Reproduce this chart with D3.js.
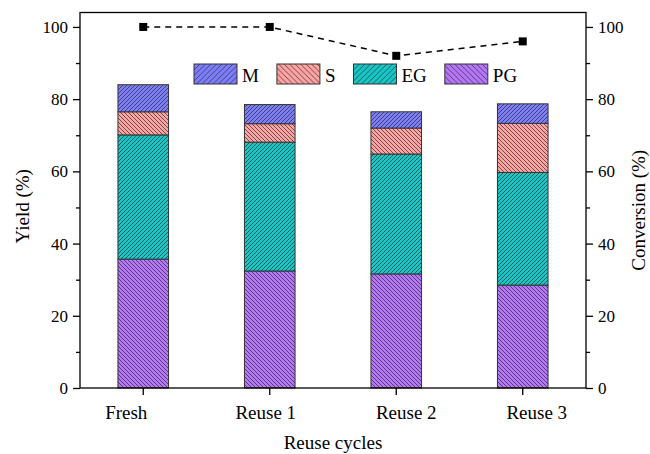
<!DOCTYPE html>
<html>
<head>
<meta charset="utf-8">
<script src="https://cdn.jsdelivr.net/npm/d3@7"></script>
<style>
  html, body { margin: 0; padding: 0; background: #fff; }
  svg { display: block; font-family: "Liberation Serif", "Times New Roman", serif; }
</style>
</head>
<body>
<svg id="chart" width="650" height="454"></svg>
<script>
// Catalyst reuse: product yields (stacked) and conversion per cycle
const categories = ["Fresh", "Reuse 1", "Reuse 2", "Reuse 3"];
const seriesNames = ["PG", "EG", "S", "M"];           // stacking order, bottom to top
const yieldPG = [35.7, 32.4, 31.6, 28.5];
const yieldEG = [34.4, 35.7, 33.2, 31.2];
const yieldS  = [6.4, 5.1, 7.2, 13.6];
const yieldM  = [7.5, 5.3, 4.5, 5.4];
const conversion = [100, 100, 92, 96];
const yTicks = [0, 20, 40, 60, 80, 100];
const yMinorTicks = [10, 30, 50, 70, 90];
const legendOrder = ["M", "S", "EG", "PG"];

const colors = { M: "#7d7dff", S: "#ffa2a2", EG: "#14c8c8", PG: "#b676fb" };
const hatchDir = { M: "up", S: "down", EG: "up", PG: "down" };
// horizontal nudges of the category labels under their ticks
const labelShift = { "Fresh": -17, "Reuse 1": -4, "Reuse 2": 10, "Reuse 3": 14 };

const rows = categories.map((c, i) => ({
  cat: c, PG: yieldPG[i], EG: yieldEG[i], S: yieldS[i], M: yieldM[i], conv: conversion[i]
}));

const svg = d3.select("#chart");
const L = 80, R = 586, T = 12.5, B = 388;

const x = d3.scaleBand().domain(categories).range([L, R]).paddingInner(0.6).paddingOuter(0.3);
const y = d3.scaleLinear().domain([0, 104]).range([B, T]);
const y2 = d3.scaleLinear().domain([0, 104]).range([B, T]);

// hatch patterns
const defs = svg.append("defs");
function addPattern(id, name, size) {
  const p = defs.append("pattern")
    .attr("id", id).attr("patternUnits", "userSpaceOnUse")
    .attr("width", size).attr("height", size);
  p.append("rect").attr("width", size).attr("height", size).attr("fill", colors[name]);
  const s = size;
  const d = hatchDir[name] === "up"
    ? `M${-s/4},${s/4} L${s/4},${-s/4} M0,${s} L${s},0 M${s*3/4},${s*5/4} L${s*5/4},${s*3/4}`
    : `M${-s/4},${s*3/4} L${s/4},${s*5/4} M0,0 L${s},${s} M${s*3/4},${-s/4} L${s*5/4},${s/4}`;
  p.append("path").attr("d", d).attr("stroke", "#2a2a2a").attr("stroke-width", 0.7).attr("fill", "none");
}
seriesNames.forEach(n => { addPattern("bar-" + n, n, 4); addPattern("leg-" + n, n, 5.5); });

// stacked bars
const stack = d3.stack().keys(seriesNames)(rows);
svg.append("g").selectAll("g").data(stack).join("g")
  .attr("fill", d => `url(#bar-${d.key})`)
  .selectAll("rect").data(d => d).join("rect")
  .attr("x", d => x(d.data.cat))
  .attr("width", x.bandwidth())
  .attr("y", d => y(d[1]))
  .attr("height", d => y(d[0]) - y(d[1]))
  .attr("stroke", "#333").attr("stroke-width", 1);

// axes
const axisStyle = g => {
  g.selectAll("path, line").attr("stroke", "#000").attr("stroke-width", 1.3);
  g.selectAll("text").attr("fill", "#000").attr("font-family", "Liberation Serif, Times New Roman, serif");
};

const xAxis = svg.append("g").attr("transform", `translate(0,${B})`)
  .call(d3.axisBottom(x).tickSize(7).tickSizeOuter(0));
xAxis.select(".domain").remove();
xAxis.selectAll("text").attr("font-size", 19).attr("y", 31).attr("dy", 0)
  .attr("x", d => labelShift[d] || 0);
axisStyle(xAxis);

const yAxis = svg.append("g").attr("transform", `translate(${L},0)`)
  .call(d3.axisLeft(y).tickValues(yTicks).tickSize(7).tickPadding(5).tickSizeOuter(0));
yAxis.select(".domain").remove();
yAxis.selectAll("text").attr("font-size", 17);
axisStyle(yAxis);
const yMinor = svg.append("g").attr("transform", `translate(${L},0)`)
  .call(d3.axisLeft(y).tickValues(yMinorTicks).tickSize(4).tickFormat("").tickSizeOuter(0));
yMinor.select(".domain").remove();
axisStyle(yMinor);

const y2Axis = svg.append("g").attr("transform", `translate(${R},0)`)
  .call(d3.axisRight(y2).tickValues(yTicks).tickSize(7).tickPadding(5).tickSizeOuter(0));
y2Axis.select(".domain").remove();
y2Axis.selectAll("text").attr("font-size", 17);
axisStyle(y2Axis);
const y2Minor = svg.append("g").attr("transform", `translate(${R},0)`)
  .call(d3.axisRight(y2).tickValues(yMinorTicks).tickSize(4).tickFormat("").tickSizeOuter(0));
y2Minor.select(".domain").remove();
axisStyle(y2Minor);

// plot frame
svg.append("rect").attr("x", L).attr("y", T).attr("width", R - L).attr("height", B - T)
  .attr("fill", "none").attr("stroke", "#000").attr("stroke-width", 1.3);

// conversion line with square markers
const cx = d => x(d.cat) + x.bandwidth() / 2;
svg.append("path").datum(rows)
  .attr("d", d3.line().x(cx).y(d => y2(d.conv)))
  .attr("fill", "none").attr("stroke", "#000").attr("stroke-width", 1.5)
  .attr("stroke-dasharray", "6,5");
svg.append("g").selectAll("rect").data(rows).join("rect")
  .attr("x", d => cx(d) - 4).attr("y", d => y2(d.conv) - 4)
  .attr("width", 8).attr("height", 8).attr("fill", "#000");

// legend
const leg = svg.append("g");
let lx = 194;
legendOrder.forEach(n => {
  leg.append("rect").attr("x", lx).attr("y", 64).attr("width", 43).attr("height", 20)
    .attr("fill", `url(#leg-${n})`).attr("stroke", "#333").attr("stroke-width", 1);
  const t = leg.append("text").attr("x", lx + 48).attr("y", 81.5)
    .attr("font-size", 19).attr("fill", "#000").text(n);
  lx += 48 + t.node().getComputedTextLength() + 18;
});

// axis titles
svg.append("text").attr("x", (L + R) / 2).attr("y", 449).attr("text-anchor", "middle")
  .attr("font-size", 19).text("Reuse cycles");
svg.append("text").attr("transform", `translate(29,${(T + B) / 2 + 6}) rotate(-90)`)
  .attr("text-anchor", "middle").attr("font-size", 19).text("Yield (%)");
svg.append("text").attr("transform", `translate(645,${(T + B) / 2 + 10}) rotate(-90)`)
  .attr("text-anchor", "middle").attr("font-size", 19).text("Conversion (%)");
</script>
</body>
</html>
